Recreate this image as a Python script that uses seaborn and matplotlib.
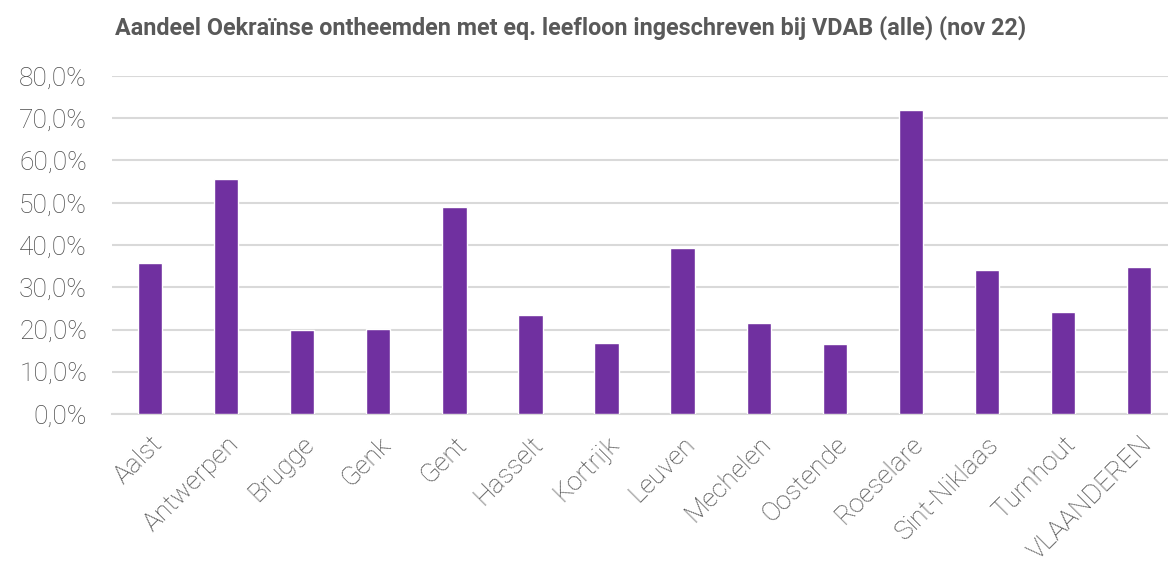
import matplotlib
matplotlib.use("Agg")
import matplotlib.pyplot as plt
import seaborn as sns
import pandas as pd

steden = ["Aalst", "Antwerpen", "Brugge", "Genk", "Gent", "Hasselt", "Kortrijk",
          "Leuven", "Mechelen", "Oostende", "Roeselare", "Sint-Niklaas",
          "Turnhout", "VLAANDEREN"]
aandeel = [35.8, 55.7, 19.8, 20.1, 48.9, 23.4, 16.9, 39.4, 21.6, 16.5, 72.0,
           34.0, 24.2, 34.7]
y_ticks = [0, 10, 20, 30, 40, 50, 60, 70, 80]
y_labels = ["0,0%", "10,0%", "20,0%", "30,0%", "40,0%", "50,0%", "60,0%",
            "70,0%", "80,0%"]

df = pd.DataFrame({"stad": steden, "aandeel": aandeel})

sns.set_theme(style="white")
plt.rcParams["font.family"] = ["Roboto", "DejaVu Sans"]

fig = plt.figure(figsize=(11.68, 5.66), dpi=100)
ax = fig.add_axes([112 / 1168, 1 - 414 / 566, 1 - 112 / 1168, 338 / 566])

sns.barplot(data=df, x="stad", y="aandeel", color="#7030A0", width=0.32,
            saturation=1, ax=ax, zorder=3)

ax.set_xlim(-0.5, 13.38)
ax.set_ylim(0, 80)
ax.set_yticks(y_ticks)
ax.set_yticklabels(y_labels, fontsize=19, color="#4a4a4a", fontweight="light")
ax.set_xticks(range(len(steden)))
ax.set_xticklabels(steden, rotation=45, ha="right", rotation_mode="anchor",
                   fontsize=19, color="#4a4a4a", fontweight="light")
ax.tick_params(axis="y", pad=18, length=0)
ax.tick_params(axis="x", pad=13, length=0)
ax.set_xlabel("")
ax.set_ylabel("")

ax.yaxis.grid(True, color="#D9D9D9", linewidth=1.5, zorder=0)
for s in ["top", "right", "left"]:
    ax.spines[s].set_visible(False)
ax.spines["bottom"].set_color("#D9D9D9")
ax.spines["bottom"].set_linewidth(1.5)

fig.text(115 / 1168, 1 - 28 / 566,
         "Aandeel Oekraïnse ontheemden met eq. leefloon ingeschreven bij VDAB (alle) (nov 22)",
         fontsize=16.8, fontweight="bold", color="#595959", va="center", ha="left")

fig.savefig("out.png", dpi=100)
